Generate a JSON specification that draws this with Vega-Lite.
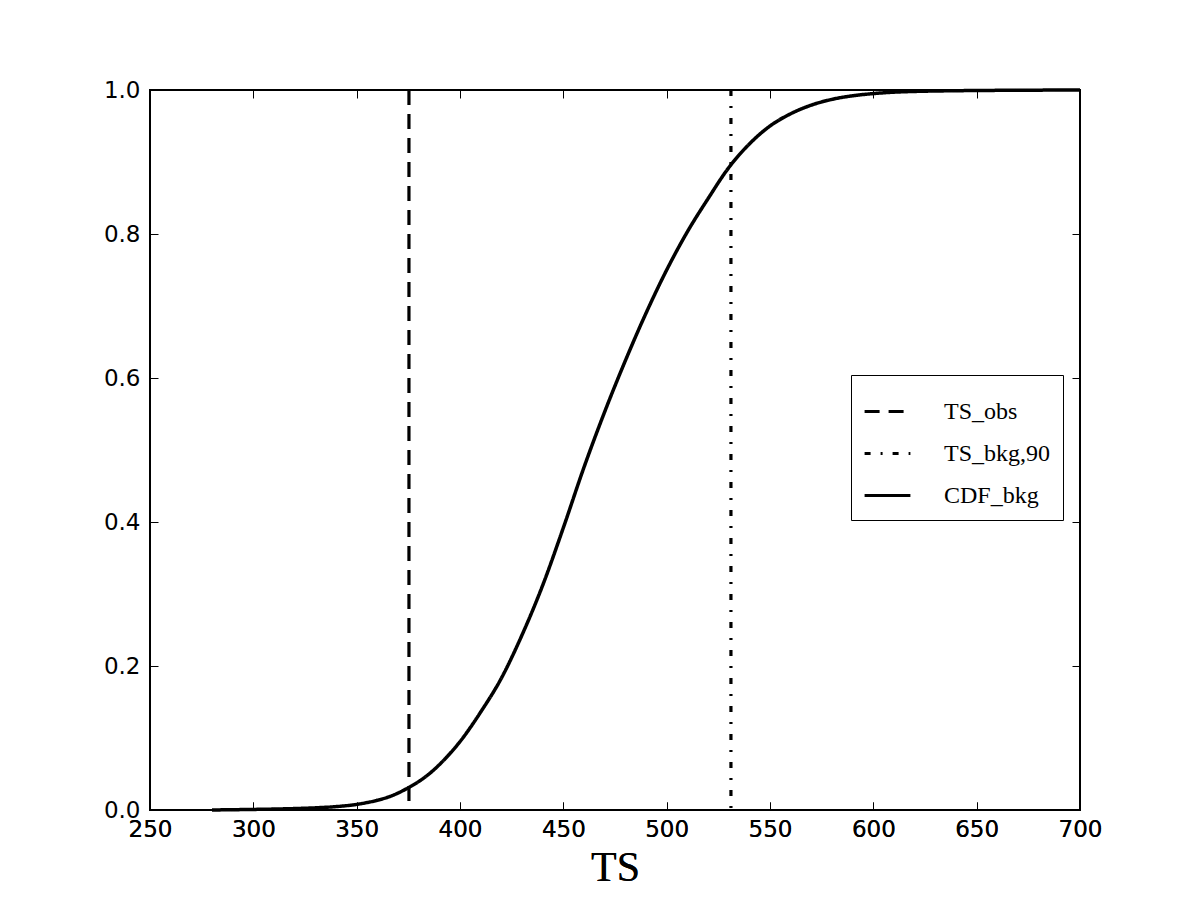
{
  "$schema": "https://vega.github.io/schema/vega-lite/v6.json",
  "autosize": "none",
  "width": 930,
  "height": 720,
  "padding": {"left": 150, "top": 90, "right": 120, "bottom": 90},
  "background": "white",
  "config": {
    "view": {"stroke": "black", "strokeWidth": 2},
    "axis": {
      "grid": false,
      "domain": false,
      "tickColor": "black",
      "tickWidth": 1,
      "tickSize": -8,
      "labelFlush": false,
      "labelFont": "DejaVu Sans",
      "labelFontSize": 23,
      "labelColor": "black",
      "titleFont": "Liberation Serif",
      "titleFontWeight": "normal",
      "titleFontSize": 42,
      "titleColor": "black"
    }
  },
  "datasets": {
    "cdf": [
      {"ts": 280, "cdf": 0.0, "series": "CDF_bkg"},
      {"ts": 290, "cdf": 0.0004, "series": "CDF_bkg"},
      {"ts": 300, "cdf": 0.0008, "series": "CDF_bkg"},
      {"ts": 310, "cdf": 0.0013, "series": "CDF_bkg"},
      {"ts": 320, "cdf": 0.002, "series": "CDF_bkg"},
      {"ts": 330, "cdf": 0.003, "series": "CDF_bkg"},
      {"ts": 340, "cdf": 0.0047, "series": "CDF_bkg"},
      {"ts": 350, "cdf": 0.0078, "series": "CDF_bkg"},
      {"ts": 355, "cdf": 0.0103, "series": "CDF_bkg"},
      {"ts": 360, "cdf": 0.0135, "series": "CDF_bkg"},
      {"ts": 365, "cdf": 0.0177, "series": "CDF_bkg"},
      {"ts": 370, "cdf": 0.0235, "series": "CDF_bkg"},
      {"ts": 375, "cdf": 0.031, "series": "CDF_bkg"},
      {"ts": 380, "cdf": 0.0395, "series": "CDF_bkg"},
      {"ts": 385, "cdf": 0.05, "series": "CDF_bkg"},
      {"ts": 390, "cdf": 0.063, "series": "CDF_bkg"},
      {"ts": 395, "cdf": 0.078, "series": "CDF_bkg"},
      {"ts": 400, "cdf": 0.095, "series": "CDF_bkg"},
      {"ts": 410, "cdf": 0.136, "series": "CDF_bkg"},
      {"ts": 420, "cdf": 0.183, "series": "CDF_bkg"},
      {"ts": 430, "cdf": 0.243, "series": "CDF_bkg"},
      {"ts": 440, "cdf": 0.312, "series": "CDF_bkg"},
      {"ts": 450, "cdf": 0.392, "series": "CDF_bkg"},
      {"ts": 460, "cdf": 0.476, "series": "CDF_bkg"},
      {"ts": 470, "cdf": 0.553, "series": "CDF_bkg"},
      {"ts": 480, "cdf": 0.624, "series": "CDF_bkg"},
      {"ts": 490, "cdf": 0.69, "series": "CDF_bkg"},
      {"ts": 500, "cdf": 0.75, "series": "CDF_bkg"},
      {"ts": 510, "cdf": 0.803, "series": "CDF_bkg"},
      {"ts": 520, "cdf": 0.849, "series": "CDF_bkg"},
      {"ts": 530, "cdf": 0.892, "series": "CDF_bkg"},
      {"ts": 540, "cdf": 0.925, "series": "CDF_bkg"},
      {"ts": 550, "cdf": 0.95, "series": "CDF_bkg"},
      {"ts": 560, "cdf": 0.967, "series": "CDF_bkg"},
      {"ts": 570, "cdf": 0.979, "series": "CDF_bkg"},
      {"ts": 580, "cdf": 0.987, "series": "CDF_bkg"},
      {"ts": 590, "cdf": 0.992, "series": "CDF_bkg"},
      {"ts": 600, "cdf": 0.995, "series": "CDF_bkg"},
      {"ts": 610, "cdf": 0.997, "series": "CDF_bkg"},
      {"ts": 620, "cdf": 0.998, "series": "CDF_bkg"},
      {"ts": 640, "cdf": 0.999, "series": "CDF_bkg"},
      {"ts": 660, "cdf": 0.9995, "series": "CDF_bkg"},
      {"ts": 680, "cdf": 0.9998, "series": "CDF_bkg"},
      {"ts": 700, "cdf": 1.0, "series": "CDF_bkg"}
    ],
    "marks": [
      {"ts": 375.3, "series": "TS_obs"},
      {"ts": 531.1, "series": "TS_bkg,90"}
    ]
  },
  "layer": [
    {
      "data": {"name": "cdf"},
      "mark": {"type": "line", "strokeOpacity": 0},
      "encoding": {
        "x": {"field": "ts", "type": "quantitative", "scale": {"domain": [250, 700], "nice": false, "zero": false},
              "axis": {"orient": "top", "labels": false, "title": null, "values": [250, 300, 350, 400, 450, 500, 550, 600, 650, 700]}},
        "y": {"field": "cdf", "type": "quantitative", "scale": {"domain": [0, 1], "nice": false},
              "axis": {"orient": "right", "labels": false, "title": null, "values": [0, 0.2, 0.4, 0.6, 0.8, 1.0]}}
      }
    },
    {
      "data": {"name": "marks"},
      "mark": {"type": "rule", "color": "black", "strokeWidth": 3.2},
      "encoding": {
        "x": {"field": "ts", "type": "quantitative",
              "axis": {"orient": "bottom", "title": "TS", "labelPadding": 16, "titlePadding": 6, "values": [250, 300, 350, 400, 450, 500, 550, 600, 650, 700]}},
        "strokeDash": {"field": "series", "type": "nominal",
          "scale": {"domain": ["TS_obs", "TS_bkg,90", "CDF_bkg"], "range": [[15, 9], [6, 10, 2, 10], [1, 0]]},
          "legend": {
            "title": null, "orient": "none", "legendX": 701, "legendY": 285,
            "padding": 12, "strokeColor": "black", "fillColor": "white", "cornerRadius": 0,
            "symbolType": "stroke", "symbolSize": 2100, "symbolStrokeWidth": 3, "symbolStrokeColor": "black",
            "labelFont": "Liberation Serif", "labelFontSize": 24, "labelColor": "black", "labelOffset": 32,
            "rowPadding": 5, "labelLimit": 300
          }}
      }
    },
    {
      "data": {"name": "cdf"},
      "mark": {"type": "line", "color": "black", "strokeWidth": 3.5, "interpolate": "monotone"},
      "encoding": {
        "x": {"field": "ts", "type": "quantitative",
              "axis": {"orient": "bottom", "title": "TS", "labelPadding": 16, "titlePadding": 6, "values": [250, 300, 350, 400, 450, 500, 550, 600, 650, 700]}},
        "y": {"field": "cdf", "type": "quantitative",
              "axis": {"orient": "left", "title": null, "format": ".1f", "labelPadding": 18, "values": [0, 0.2, 0.4, 0.6, 0.8, 1.0]}},
        "strokeDash": {"field": "series", "type": "nominal"}
      }
    }
  ]
}
